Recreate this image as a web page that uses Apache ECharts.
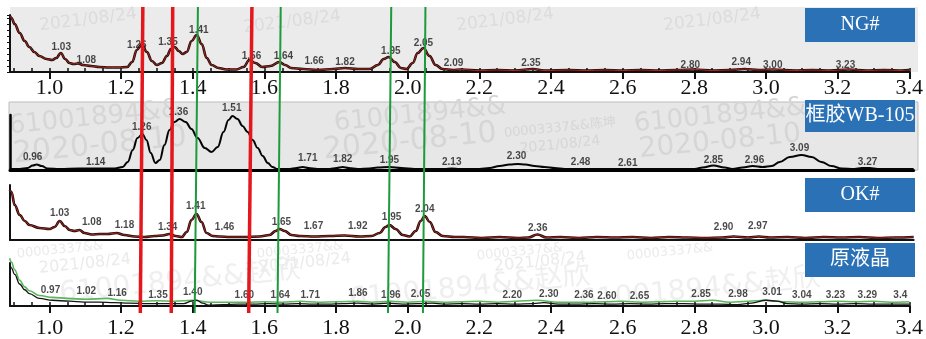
<!DOCTYPE html>
<html>
<head>
<meta charset="utf-8">
<script src="https://cdn.jsdelivr.net/npm/echarts@6/dist/echarts.min.js"></script>
<style>
  html, body { margin: 0; padding: 0; background: #fff; }
  #chart { width: 926px; height: 339px; }
</style>
</head>
<body>
<div id="chart"></div>
<script>
// x range shared by all four spectra
const X_MIN = 0.89;
const X_MAX = 3.4;

const majorTicks = [1.0, 1.2, 1.4, 1.6, 1.8, 2.0, 2.2, 2.4, 2.6, 2.8, 3.0, 3.2, 3.4];
const minorTicks = [0.9, 0.95, 1.0, 1.05, 1.1, 1.15, 1.2, 1.25, 1.3, 1.35, 1.4, 1.45, 1.5, 1.55,
  1.6, 1.65, 1.7, 1.75, 1.8, 1.85, 1.9, 1.95, 2.0, 2.05, 2.1, 2.15, 2.2, 2.25, 2.3, 2.35, 2.4,
  2.45, 2.5, 2.55, 2.6, 2.65, 2.7, 2.75, 2.8, 2.85, 2.9, 2.95, 3.0, 3.05, 3.1, 3.15, 3.2, 3.25,
  3.3, 3.35, 3.4];

// NG# spectrum  [x, height]
const ngCurve = [
  [0.890, 56], [0.894, 54], [0.903, 48], [0.917, 39], [0.931, 31], [0.944, 25], [0.958, 20],
  [0.972, 16], [0.992, 13], [1.008, 12], [1.019, 14], [1.032, 19], [1.044, 13], [1.056, 9],
  [1.067, 8], [1.081, 8.5], [1.094, 7], [1.117, 6], [1.139, 5], [1.167, 4.5], [1.194, 4.5],
  [1.217, 5], [1.231, 10], [1.244, 22], [1.258, 28], [1.272, 20], [1.286, 11], [1.300, 7],
  [1.314, 9], [1.328, 16], [1.339, 23], [1.350, 25], [1.361, 21], [1.372, 18], [1.383, 20],
  [1.397, 31], [1.411, 37], [1.425, 28], [1.439, 14], [1.453, 7], [1.472, 4], [1.494, 2.5],
  [1.522, 2.5], [1.542, 5], [1.558, 12], [1.575, 9], [1.594, 5], [1.617, 6], [1.642, 10],
  [1.658, 7], [1.675, 4], [1.708, 3], [1.750, 2], [1.792, 3], [1.825, 4], [1.861, 3],
  [1.894, 3], [1.917, 7], [1.933, 13], [1.947, 15], [1.964, 10], [1.981, 4], [1.997, 3],
  [2.014, 9], [2.028, 19], [2.044, 24], [2.061, 16], [2.078, 7], [2.097, 3], [2.125, 2],
  [2.15, 2.5], [2.2, 1.5], [2.25, 2], [2.3, 1.5], [2.35, 3], [2.38, 1.5], [2.45, 2], [2.5, 1.5],
  [2.55, 2], [2.6, 1.5], [2.65, 2], [2.7, 1.5], [2.75, 2], [2.8, 2.5], [2.85, 1.5], [2.9, 2],
  [2.94, 3], [2.98, 2], [3.02, 2.5], [3.08, 1.5], [3.13, 2], [3.18, 1.5], [3.23, 2.5],
  [3.28, 1.5], [3.33, 2], [3.38, 1.5], [3.4, 2]
];
const ngPeaks = [
  [1.033, 25, '1.03'], [1.103, 12, '1.08'], [1.244, 27, '1.26'], [1.331, 30, '1.35'],
  [1.417, 42, '1.41'], [1.564, 16, '1.56'], [1.653, 16, '1.64'], [1.739, 11, '1.66'],
  [1.825, 10, '1.82'], [1.953, 21, '1.95'], [2.044, 29, '2.05'], [2.128, 9, '2.09'],
  [2.344, 9, '2.35'], [2.789, 7, '2.80'], [2.931, 10, '2.94'], [3.019, 7, '3.00'],
  [3.222, 7, '3.23']
];

// 框胶WB-105 spectrum
const wbCurve = [
  [0.889, 1], [0.917, 1], [0.939, 2], [0.953, 4.5], [0.964, 5.5], [0.978, 4], [0.994, 1.5],
  [1.028, 1], [1.083, 1.5], [1.139, 1.5], [1.181, 1.5], [1.203, 3], [1.217, 8], [1.231, 20],
  [1.244, 32], [1.258, 36], [1.269, 30], [1.281, 17], [1.294, 7], [1.306, 10], [1.319, 25],
  [1.333, 40], [1.347, 48], [1.361, 51], [1.378, 48], [1.394, 41], [1.411, 32], [1.431, 22],
  [1.450, 18], [1.467, 23], [1.483, 38], [1.497, 50], [1.508, 54], [1.522, 51], [1.536, 44],
  [1.550, 38], [1.564, 30], [1.578, 22], [1.592, 14], [1.606, 7], [1.619, 3], [1.633, 1],
  [1.667, 1], [1.686, 2], [1.703, 3], [1.719, 2], [1.744, 1], [1.778, 1], [1.797, 2],
  [1.814, 3], [1.831, 2], [1.856, 1], [1.889, 1.5], [1.911, 2.5], [1.944, 3], [1.978, 2],
  [2.014, 1], [2.056, 1], [2.097, 1], [2.117, 1.5], [2.139, 1], [2.194, 1], [2.222, 2],
  [2.250, 4], [2.278, 5.5], [2.300, 6], [2.322, 5.5], [2.347, 4], [2.375, 3], [2.403, 2],
  [2.431, 1], [2.472, 1], [2.528, 1], [2.606, 1], [2.667, 1], [2.792, 1], [2.814, 2.5],
  [2.844, 4.5], [2.875, 2.5], [2.897, 1], [2.925, 2.5], [2.953, 4], [2.981, 3], [3.006, 4],
  [3.028, 8], [3.056, 13], [3.089, 15], [3.117, 13], [3.144, 8], [3.172, 4], [3.200, 1.5],
  [3.236, 1], [3.256, 2], [3.278, 2], [3.300, 1], [3.361, 1], [3.400, 1]
];
const wbPeaks = [
  [0.953, 13, '0.96'], [1.128, 8, '1.14'], [1.256, 43, '1.26'], [1.358, 58, '1.36'],
  [1.506, 62, '1.51'], [1.717, 12, '1.71'], [1.814, 11, '1.82'], [1.944, 10, '1.95'],
  [2.117, 8, '2.13'], [2.297, 14, '2.30'], [2.475, 8, '2.48'], [2.606, 7, '2.61'],
  [2.844, 10, '2.85'], [2.958, 10, '2.96'], [3.083, 22, '3.09'], [3.272, 8, '3.27']
];

// OK# spectrum
const okCurve = [
  [0.889, 50], [0.894, 48], [0.903, 35], [0.917, 25], [0.931, 19], [0.944, 15], [0.972, 12],
  [1.000, 11], [1.014, 13], [1.028, 19], [1.042, 14], [1.056, 10], [1.069, 9], [1.083, 10],
  [1.097, 7], [1.117, 5.5], [1.139, 6], [1.161, 6], [1.186, 7], [1.208, 5], [1.236, 3.5],
  [1.264, 3], [1.292, 4], [1.314, 4.5], [1.333, 6], [1.350, 4], [1.367, 3], [1.381, 8],
  [1.394, 20], [1.408, 26], [1.422, 18], [1.436, 7], [1.453, 4], [1.472, 3.5], [1.500, 3],
  [1.542, 3], [1.583, 3.5], [1.611, 5], [1.628, 9], [1.639, 11], [1.653, 9], [1.672, 5],
  [1.694, 4], [1.736, 3.5], [1.778, 4], [1.819, 4.5], [1.861, 3.5], [1.894, 4], [1.917, 7],
  [1.933, 13], [1.944, 15], [1.961, 11], [1.981, 5], [2.000, 3.5], [2.017, 9], [2.031, 19],
  [2.042, 24], [2.056, 18], [2.072, 8], [2.092, 4], [2.125, 3], [2.15, 3], [2.2, 2],
  [2.25, 3], [2.3, 2], [2.33, 2.5], [2.355, 5.5], [2.38, 2.5], [2.42, 3], [2.47, 2],
  [2.52, 3], [2.57, 2.5], [2.62, 3], [2.67, 2], [2.72, 3], [2.77, 2.5], [2.82, 2],
  [2.87, 2.5], [2.9, 3.5], [2.94, 2.5], [2.97, 3.5], [3.0, 2.5], [3.05, 3], [3.1, 2],
  [3.15, 3], [3.2, 2.5], [3.25, 3], [3.3, 2], [3.35, 2.5], [3.4, 3]
];
const okPeaks = [
  [1.028, 27, '1.03'], [1.117, 18, '1.08'], [1.208, 15, '1.18'], [1.328, 13, '1.34'],
  [1.406, 34, '1.41'], [1.486, 13, '1.46'], [1.644, 18, '1.65'], [1.733, 14, '1.67'],
  [1.856, 14, '1.92'], [1.950, 23, '1.95'], [2.042, 31, '2.04'], [2.356, 12, '2.36'],
  [2.872, 13, '2.90'], [2.967, 14, '2.97']
];

// 原液晶 spectrum (black trace and green trace)
const lcBlack = [
  [0.889, 45], [0.894, 40], [0.903, 33], [0.917, 23], [0.931, 17], [0.944, 13], [0.972, 8],
  [1.008, 6], [1.056, 5], [1.097, 4], [1.139, 4], [1.181, 3.5], [1.222, 3], [1.278, 2.5],
  [1.333, 2.5], [1.375, 2.5], [1.397, 5], [1.411, 6], [1.428, 3], [1.444, 1], [1.486, 1.5],
  [1.528, 2], [1.569, 2], [1.611, 2.5], [1.653, 2], [1.694, 2.5], [1.736, 2], [1.778, 2],
  [1.819, 2.5], [1.861, 3], [1.903, 2], [1.944, 3], [1.986, 2], [2.028, 2.5], [2.069, 3],
  [2.1, 2], [2.15, 2.5], [2.2, 2], [2.25, 2.5], [2.3, 2], [2.35, 2.5], [2.38, 3.5], [2.42, 2],
  [2.47, 2], [2.52, 2.5], [2.57, 2], [2.62, 2.5], [2.67, 2], [2.72, 2.5], [2.77, 2.5],
  [2.82, 2], [2.87, 2], [2.92, 1.5], [2.96, 3], [3.0, 6], [3.03, 5], [3.06, 2.5], [3.1, 2],
  [3.15, 2.5], [3.2, 2], [3.25, 2.5], [3.3, 2], [3.35, 2], [3.4, 2]
];
const lcGreen = [
  [0.889, 50], [0.894, 46], [0.903, 38], [0.917, 27], [0.931, 20], [0.944, 16], [0.972, 11],
  [1.008, 9], [1.05, 8], [1.1, 7], [1.16, 8], [1.2, 6], [1.25, 5], [1.3, 5.5], [1.35, 5],
  [1.4, 6], [1.45, 4], [1.5, 4], [1.55, 4], [1.6, 4.5], [1.65, 4], [1.7, 5], [1.75, 4],
  [1.8, 4.5], [1.86, 5], [1.9, 4], [1.95, 5], [2.0, 4], [2.05, 5], [2.1, 4], [2.15, 4.5],
  [2.2, 5], [2.25, 4], [2.3, 5], [2.36, 6], [2.42, 4], [2.5, 4], [2.55, 4.5], [2.6, 5],
  [2.65, 4], [2.7, 4.5], [2.75, 5], [2.8, 5], [2.85, 6], [2.9, 4], [2.95, 5], [3.0, 6],
  [3.05, 4.5], [3.1, 4], [3.15, 4.5], [3.2, 5], [3.25, 4.5], [3.3, 5], [3.35, 4], [3.4, 4.5]
];
const lcPeaks = [
  [1.003, 16, '0.97'], [1.103, 15, '1.02'], [1.189, 13, '1.16'], [1.303, 11, '1.35'],
  [1.400, 14, '1.40'], [1.544, 11, '1.60'], [1.644, 11, '1.64'], [1.728, 11, '1.71'],
  [1.861, 13, '1.86'], [1.953, 11, '1.96'], [2.036, 12, '2.05'], [2.292, 11, '2.20'],
  [2.394, 12, '2.30'], [2.492, 11, '2.36'], [2.556, 10, '2.60'], [2.647, 10, '2.65'],
  [2.819, 12, '2.85'], [2.922, 12, '2.98'], [3.017, 14, '3.01'], [3.100, 11, '3.04'],
  [3.194, 11, '3.23'], [3.283, 11, '3.29'], [3.375, 11, '3.4']
];

// marker lines drawn across all panels: [x at top, x at bottom]
const redLines = [[1.259, 1.252], [1.342, 1.338], [1.562, 1.553]];
const greenLines = [[1.412, 1.403], [1.642, 1.633], [1.949, 1.940], [2.044, 2.037]];

const panelNames = ['NG#', '框胶WB-105', 'OK#', '原液晶'];

const chart = echarts.init(document.getElementById('chart'));

const GRID_LEFT = 10;
const GRID_WIDTH = 903.6;
const SERIF = '"Liberation Serif", "Noto Sans CJK SC", serif';

function mkGrid(top, height) {
  return { left: GRID_LEFT, width: GRID_WIDTH, top: top, height: height, containLabel: false };
}

const tickLabel = {
  show: true,
  customValues: majorTicks,
  formatter: v => v.toFixed(1),
  fontFamily: SERIF,
  fontSize: 22,
  color: '#111'
};

function baseX(gridIndex, extra) {
  return Object.assign({
    type: 'value', gridIndex: gridIndex, min: X_MIN, max: X_MAX,
    splitLine: { show: false },
    axisLabel: { show: false },
    axisTick: { show: false },
    axisLine: { show: false }
  }, extra);
}

function baseY(gridIndex, max, extra) {
  return Object.assign({
    type: 'value', gridIndex: gridIndex, min: 0, max: max,
    splitLine: { show: false },
    axisLabel: { show: false },
    axisTick: { show: false },
    axisLine: { show: true, lineStyle: { color: '#111', width: 2 } }
  }, extra);
}

function curve(data, xi, yi, color, width, z) {
  return {
    type: 'line', data: data, xAxisIndex: xi, yAxisIndex: yi,
    showSymbol: false, symbol: 'none', smooth: 0.4, smoothMonotone: 'x',
    clip: false, z: z || 2,
    lineStyle: { color: color, width: width },
    silent: true
  };
}

function peakLabels(peaks, xi, yi) {
  return {
    type: 'scatter', xAxisIndex: xi, yAxisIndex: yi, clip: false, z: 3,
    symbolSize: 1, itemStyle: { color: 'transparent' },
    data: peaks.map(p => ({ value: [p[0], p[1]], name: p[2] })),
    label: {
      show: true, position: 'inside', formatter: '{b}',
      fontFamily: 'Liberation Sans, Arial, sans-serif', fontWeight: 'bold',
      fontSize: 10, color: '#1a1a1a'
    },
    silent: true
  };
}

function markerLines(lines, color, width) {
  return lines.map(l => ({
    type: 'line', xAxisIndex: 6, yAxisIndex: 4, z: 10,
    data: [[l[1], 0], [l[0], 1]],
    symbol: 'none', clip: false, silent: true,
    lineStyle: { color: color, width: width }
  }));
}

// faint watermarks of the source scans
const watermarks = [
  ['2021/08/24', 88, 20, 17, 0.12, '#dcdcdc'], ['2021/08/24', 292, 22, 17, 0.12, '#dcdcdc'],
  ['2021/08/24', 505, 20, 17, 0.12, '#dcdcdc'], ['2021/08/24', 712, 20, 17, 0.12, '#dcdcdc'],
  ['61001894&&', 95, 118, 26, 0.1, '#d6d6d6'], ['2020-08-10', 100, 146, 30, 0.1, '#d6d6d6'],
  ['61001894&&', 420, 115, 26, 0.1, '#d6d6d6'], ['2020-08-10', 410, 142, 30, 0.1, '#d6d6d6'],
  ['00003337&&陈坤', 560, 128, 13, 0.1, '#d6d6d6'], ['2021/08/24', 560, 145, 14, 0.1, '#d6d6d6'],
  ['61001894&&', 720, 116, 26, 0.1, '#d6d6d6'], ['2020-08-10', 720, 142, 28, 0.1, '#d6d6d6'],
  ['00003337&&', 60, 250, 13, 0.1, '#ebebeb'], ['2021/08/24', 85, 264, 16, 0.1, '#ebebeb'],
  ['61001894&&赵欣', 180, 282, 28, 0.1, '#efefef'], ['00003337&&', 300, 250, 13, 0.1, '#ebebeb'],
  ['2021/08/24', 305, 263, 16, 0.1, '#ebebeb'], ['61001894&&赵欣', 470, 288, 28, 0.1, '#efefef'],
  ['00003337&&', 520, 252, 13, 0.1, '#ebebeb'], ['2021/08/24', 540, 262, 16, 0.1, '#ebebeb'],
  ['61001894&&赵欣', 700, 290, 28, 0.1, '#efefef'], ['00003337&&', 670, 252, 13, 0.1, '#ebebeb']
];

const graphic = [
  { type: 'rect', z: -20, shape: { x: 10, y: 7, width: 908, height: 65 },
    style: { fill: '#ebebeb' }, silent: true },
  { type: 'rect', z: -20, shape: { x: 9, y: 102, width: 909, height: 68 },
    style: { fill: '#e7e7e7', stroke: '#bdbdbd', lineWidth: 1 }, silent: true }
];
watermarks.forEach(w => {
  graphic.push({
    type: 'text', z: -10, silent: true, x: w[1], y: w[2], rotation: w[4],
    style: { text: w[0], fill: w[5], font: w[3] + 'px "DejaVu Sans", "Noto Sans CJK SC", sans-serif',
      align: 'center', verticalAlign: 'middle' }
  });
});
const boxTops = [8, 100, 178, 243];
const boxHeights = [34, 32, 34, 34];
panelNames.forEach((name, i) => {
  graphic.push({ type: 'rect', z: 50, silent: true,
    shape: { x: 805, y: boxTops[i], width: 110, height: boxHeights[i] },
    style: { fill: '#2a71b6' } });
  graphic.push({ type: 'text', z: 51, silent: true, x: 860, y: boxTops[i] + boxHeights[i] / 2,
    style: { text: name, fill: '#fff', font: '20px ' + SERIF, align: 'center', verticalAlign: 'middle' } });
});

const option = {
  animation: false,
  backgroundColor: '#fff',
  graphic: graphic,
  grid: [mkGrid(15, 57), mkGrid(115, 55), mkGrid(185, 55), mkGrid(263, 45), mkGrid(7, 306)],
  xAxis: [
    baseX(0, {
      axisLine: { show: true, onZero: false, lineStyle: { color: '#111', width: 2 } },
      axisTick: { show: true, customValues: majorTicks, length: 7, lineStyle: { color: '#111', width: 2 } },
      axisLabel: Object.assign({}, tickLabel, { margin: 5 })
    }),
    baseX(0, {
      axisTick: { show: true, customValues: minorTicks, length: 4, lineStyle: { color: '#111', width: 1.5 } }
    }),
    baseX(1, { axisLine: { show: true, onZero: false, lineStyle: { color: '#000', width: 3 } } }),
    baseX(2, { axisLine: { show: true, onZero: false, lineStyle: { color: '#111', width: 2 } } }),
    baseX(3, {
      axisLine: { show: true, onZero: false, lineStyle: { color: '#111', width: 2 } },
      axisTick: { show: true, customValues: majorTicks, length: 7, lineStyle: { color: '#111', width: 2 } },
      axisLabel: Object.assign({}, tickLabel, { margin: 11 })
    }),
    baseX(3, {
      axisTick: { show: true, customValues: minorTicks, length: 4, lineStyle: { color: '#111', width: 1.5 } }
    }),
    baseX(4, {})
  ],
  yAxis: [
    baseY(0, 57, { interval: 6, axisTick: { show: true, length: 3, lineStyle: { color: '#111' } } }),
    baseY(1, 55, { axisLine: { show: true, lineStyle: { color: '#000', width: 2.5 } } }),
    baseY(2, 55),
    baseY(3, 45),
    baseY(4, 1, { axisLine: { show: false } })
  ],
  series: [
    curve(ngCurve, 0, 0, '#1c0b08', 2.6),
    curve(ngCurve, 0, 0, '#b0281f', 1, 2.1),
    peakLabels(ngPeaks, 0, 0),
    curve(wbCurve, 2, 1, '#050505', 2),
    peakLabels(wbPeaks, 2, 1),
    curve(okCurve, 3, 2, '#1c0b08', 2.6),
    curve(okCurve, 3, 2, '#b0281f', 1, 2.1),
    peakLabels(okPeaks, 3, 2),
    curve(lcGreen, 4, 3, '#59b65a', 1.6),
    curve(lcBlack, 4, 3, '#151515', 1.3, 2.1),
    peakLabels(lcPeaks, 4, 3)
  ].concat(markerLines(redLines, '#e3171c', 3.5), markerLines(greenLines, '#1c9a3c', 2))
};

chart.setOption(option);
</script>
</body>
</html>
